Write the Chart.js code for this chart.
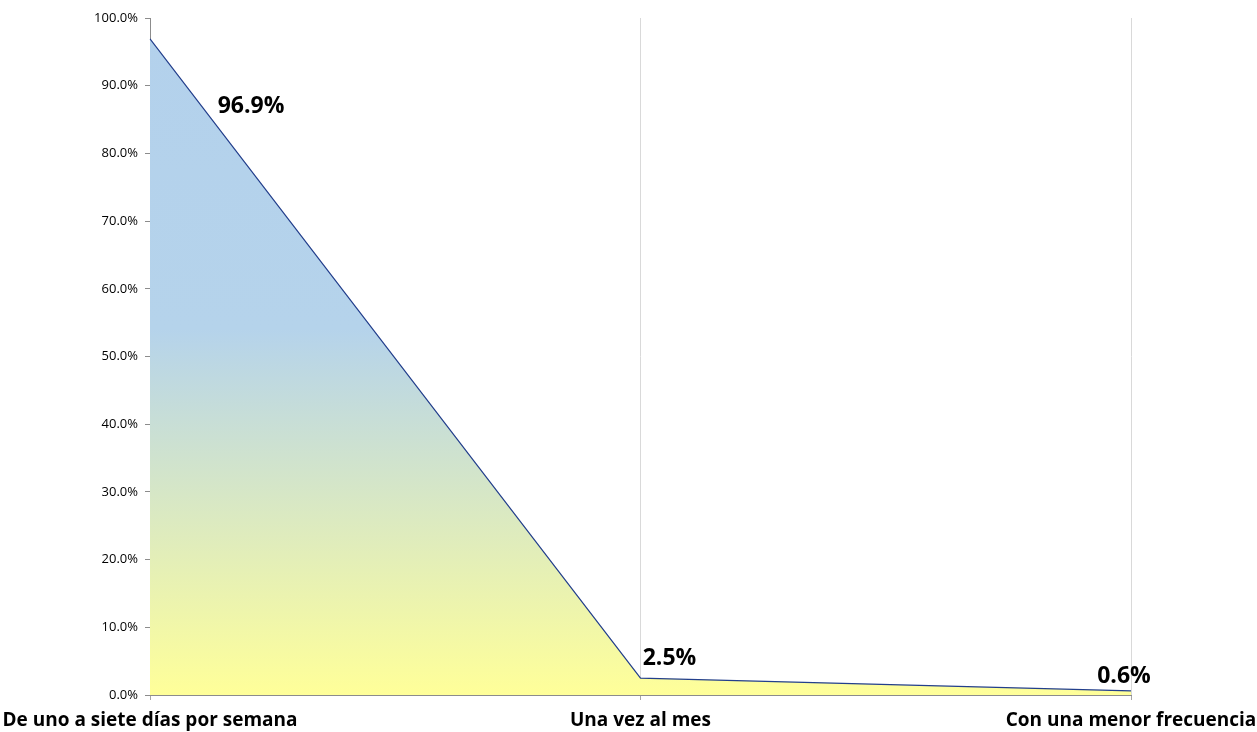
<!DOCTYPE html>
<html>
<head>
<meta charset="utf-8">
<script src="https://cdn.jsdelivr.net/npm/chart.js@4"></script>
<style>
html,body{margin:0;padding:0;background:#fff;}
#wrap{width:1257px;height:732px;position:relative;}
</style>
</head>
<body>
<div id="wrap"><canvas id="c" width="1257" height="732"></canvas></div>
<script>
const categories = ["De uno a siete días por semana", "Una vez al mes", "Con una menor frecuencia"];
const values = [96.9, 2.5, 0.6];
const valueLabels = ["96.9%", "2.5%", "0.6%"];
const yTicks = [0,10,20,30,40,50,60,70,80,90,100];

const labelOffsets = [[101, 67], [29, -20], [-7, -14]];
const FONT = '"Open Sans", "Liberation Sans", sans-serif';

const dataLabelPlugin = {
  id: 'dataLabels',
  afterDatasetsDraw(chart) {
    const ctx = chart.ctx;
    const meta = chart.getDatasetMeta(0);
    ctx.save();
    ctx.font = 'bold 23px ' + FONT;
    ctx.fillStyle = '#000';
    ctx.textAlign = 'center';
    ctx.textBaseline = 'middle';
    meta.data.forEach((pt, i) => {
      const o = labelOffsets[i];
      ctx.fillText(valueLabels[i], pt.x + o[0], pt.y + o[1]);
    });
    ctx.restore();
  }
};

function makeGradient(context) {
  const chart = context.chart;
  const area = chart.chartArea;
  if (!area) return '#B5D3EC';
  const g = chart.ctx.createLinearGradient(0, area.top, 0, area.bottom);
  g.addColorStop(0, '#B3D1EC');
  g.addColorStop(0.46, '#B5D3EB');
  g.addColorStop(1, '#FFFF99');
  return g;
}

new Chart(document.getElementById('c'), {
  type: 'line',
  data: {
    labels: categories,
    datasets: [{
      data: values,
      borderColor: '#233F8C',
      borderWidth: 1.2,
      fill: 'origin',
      backgroundColor: makeGradient,
      pointRadius: 0,
      tension: 0
    }]
  },
  options: {
    responsive: false,
    animation: false,
    devicePixelRatio: 1,
    layout: { padding: { top: 18, bottom: 0, left: 0, right: 0 } },
    plugins: { legend: { display: false }, tooltip: { enabled: false } },
    scales: {
      x: {
        offset: false,
        grid: { display: true, drawOnChartArea: true, color: '#D9D9D9', tickLength: 5, tickColor: '#A6A6A6' },
        border: { display: true, color: '#8C8C8C', width: 1 },
        ticks: {
          color: '#000',
          font: { family: FONT, weight: 'bold', size: 19 },
          maxRotation: 0, autoSkip: false, padding: 9
        },
        afterFit(scale) {
          scale.paddingLeft = 150;
          scale.paddingRight = 126;
          scale.height = 37;
        }
      },
      y: {
        min: 0, max: 100,
        afterBuildTicks(scale) { scale.ticks = yTicks.map(v => ({ value: v })); },
        grid: { display: true, drawOnChartArea: false, drawTicks: true, tickLength: 5, color: '#8C8C8C' },
        border: { display: true, color: '#8C8C8C', width: 1 },
        ticks: {
          color: '#000',
          font: { family: FONT, size: 13 },
          padding: 7,
          callback: v => v.toFixed(1) + '%'
        }
      }
    }
  },
  plugins: [dataLabelPlugin]
});
</script>
</body>
</html>
